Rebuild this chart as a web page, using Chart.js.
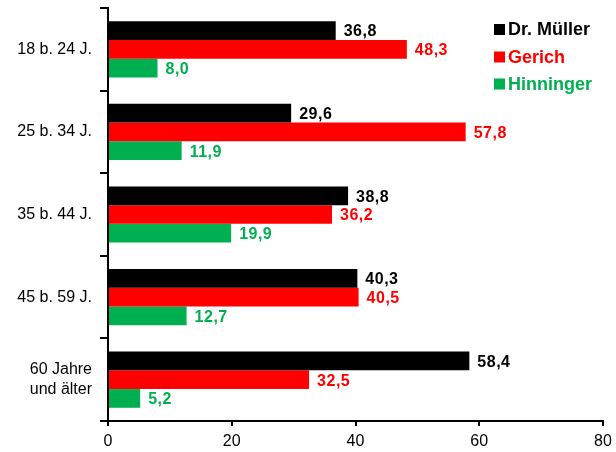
<!DOCTYPE html>
<html>
<head>
<meta charset="utf-8">
<script src="https://cdn.jsdelivr.net/npm/chart.js@4"></script>
<style>
html,body{margin:0;padding:0;background:#fff;}
#wrap{width:616px;height:452px;position:relative;}
</style>
</head>
<body>
<div id="wrap"><canvas id="c" width="616" height="452"></canvas></div>
<script>
const categories = ["18 b. 24 J.", "25 b. 34 J.", "35 b. 44 J.", "45 b. 59 J.", ["60 Jahre", "und älter"]];
const seriesNames = ["Dr. Müller", "Gerich", "Hinninger"];
const muller = [36.8, 29.6, 38.8, 40.3, 58.4];
const gerich = [48.3, 57.8, 36.2, 40.5, 32.5];
const hinninger = [8.0, 11.9, 19.9, 12.7, 5.2];
const xTicks = [0, 20, 40, 60, 80];
const colors = ["#000000", "#FF0000", "#00B050"];

const FONT = "'Liberation Sans', Arial, Helvetica, sans-serif";

const valueLabels = {
  id: 'valueLabels',
  afterDatasetsDraw(chart) {
    const ctx = chart.ctx;
    ctx.save();
    ctx.font = "bold 16px " + FONT;
    if ('letterSpacing' in ctx) ctx.letterSpacing = '0.5px';
    ctx.textBaseline = 'middle';
    ctx.textAlign = 'left';
    chart.data.datasets.forEach((ds, i) => {
      const meta = chart.getDatasetMeta(i);
      ctx.fillStyle = ds.backgroundColor;
      meta.data.forEach((el, j) => {
        const v = ds.data[j];
        ctx.fillText(v.toFixed(1).replace('.', ','), el.x + 8, el.y + 1.5);
      });
    });
    ctx.restore();
  }
};

const customLegend = {
  id: 'customLegend',
  afterDraw(chart) {
    const ctx = chart.ctx;
    ctx.save();
    ctx.font = "bold 18px " + FONT;
    ctx.textBaseline = 'middle';
    ctx.textAlign = 'left';
    const ys = [29.5, 57, 84];
    chart.data.datasets.forEach((ds, i) => {
      ctx.fillStyle = ds.backgroundColor;
      ctx.fillRect(494, ys[i] - 5.5, 11, 11);
      ctx.fillText(ds.label, 508, ys[i] + 1);
    });
    ctx.restore();
  }
};

new Chart(document.getElementById('c'), {
  type: 'bar',
  data: {
    labels: categories,
    datasets: [
      { label: seriesNames[0], data: muller, backgroundColor: colors[0] },
      { label: seriesNames[1], data: gerich, backgroundColor: colors[1] },
      { label: seriesNames[2], data: hinninger, backgroundColor: colors[2] }
    ]
  },
  options: {
    indexAxis: 'y',
    responsive: false,
    animation: false,
    devicePixelRatio: 1,
    categoryPercentage: 0.68,
    barPercentage: 1.0,
    layout: { padding: { top: 8, right: 13, left: 0, bottom: 0 } },
    plugins: { legend: { display: false }, tooltip: { enabled: false } },
    scales: {
      x: {
        min: 0, max: 80,
        afterFit(s) { s.height = 31; s.paddingLeft = 0; s.paddingRight = 0; },
        afterBuildTicks(s) { s.ticks = xTicks.map(v => ({ value: v })); },
        ticks: { color: '#000', font: { family: FONT, size: 16 }, padding: 6, maxRotation: 0 },
        grid: { drawOnChartArea: false, drawTicks: true, tickLength: 5, color: '#000', lineWidth: 2 },
        border: { display: true, color: '#000', width: 2 }
      },
      y: {
        afterFit(s) { s.width = 108; s.paddingTop = 0; s.paddingBottom = 0; },
        ticks: { color: '#000', font: { family: FONT, size: 16, lineHeight: 1.25 }, padding: 8 },
        grid: { drawOnChartArea: false, drawTicks: true, tickLength: 8, color: '#000', lineWidth: 2, offset: true },
        border: { display: true, color: '#000', width: 2 }
      }
    }
  },
  plugins: [valueLabels, customLegend]
});
</script>
</body>
</html>
